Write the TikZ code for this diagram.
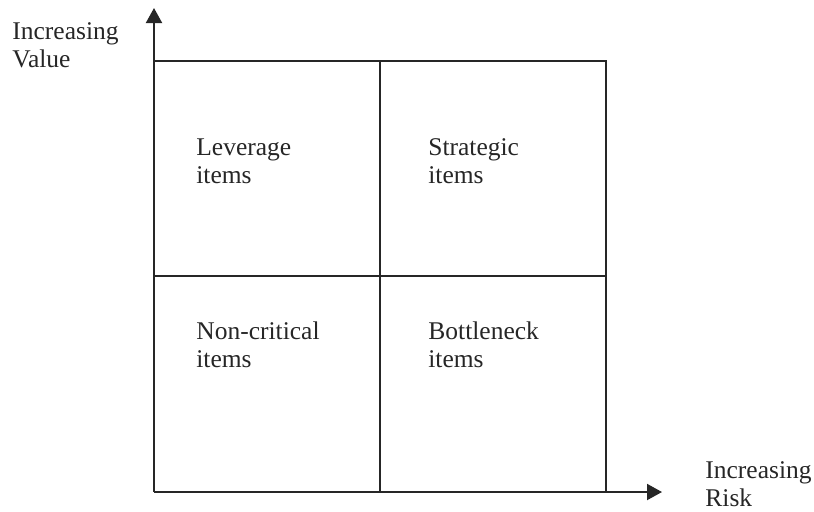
\documentclass[tikz,border=0pt]{standalone}
\usepackage{fontspec}
\setmainfont{Liberation Serif}
\usetikzlibrary{arrows.meta}
\begin{document}
\begin{tikzpicture}[x=0.5pt,y=-0.5pt,
  lbl/.style={anchor=base west,inner sep=0pt,align=left,font=\fontsize{12.75pt}{14pt}\selectfont,text=black!85},
  ln/.style={line width=1pt,draw=black!85},
  axis/.style={ln,-{Triangle[length=7.5pt,width=8pt]}}]
\useasboundingbox (0,0) rectangle (814,511);
\coordinate (O) at (154,492);
\coordinate (ytop) at (154,8);
\coordinate (xend) at (662,492);
\coordinate (TL) at (154,61);
\coordinate (TR) at (606,61);
\coordinate (BR) at (606,492);
\coordinate (TM) at (380,61);
\coordinate (BM) at (380,492);
\coordinate (ML) at (154,276);
\coordinate (MR) at (606,276);
\draw[ln] (TL) -- (TR) -- (BR);
\draw[ln] (TM) -- (BM);
\draw[ln] (ML) -- (MR);
\draw[axis] (O) -- (ytop);
\draw[axis] (O) -- (xend);
\node[lbl] (val) at (12,67) {Increasing\\Value};
\node[lbl] (risk) at (705,506) {Increasing\\Risk};
\node[lbl] (lev) at (196,183) {Leverage\\items};
\node[lbl] (str) at (428,183) {Strategic\\items};
\node[lbl] (non) at (196,367) {Non-critical\\items};
\node[lbl] (bot) at (428,367) {Bottleneck\\items};
\end{tikzpicture}
\end{document}
